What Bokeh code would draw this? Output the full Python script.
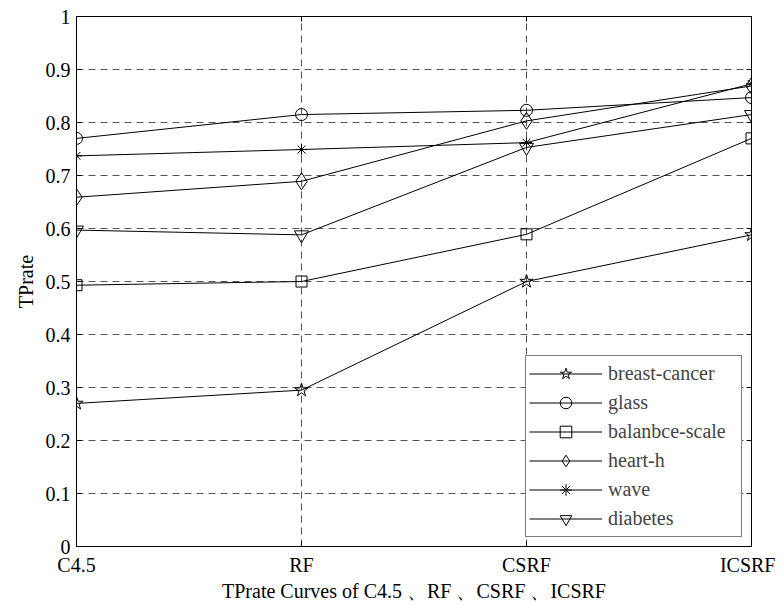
from bokeh.plotting import figure
from bokeh.models import LinearAxis, FixedTicker, NumeralTickFormatter, Legend
from bokeh.embed import file_html
from bokeh.resources import INLINE

categories = ["C4.5", "RF", "CSRF", "ICSRF"]
y_ticks = [0, 0.1, 0.2, 0.3, 0.4, 0.5, 0.6, 0.7, 0.8, 0.9, 1]

series_names = ["breast-cancer", "glass", "balanbce-scale", "heart-h", "wave", "diabetes"]
breast_cancer = [0.27, 0.295, 0.5, 0.588]
glass = [0.77, 0.815, 0.823, 0.847]
balance_scale = [0.493, 0.5, 0.589, 0.77]
heart_h = [0.659, 0.689, 0.803, 0.869]
wave = [0.737, 0.749, 0.762, 0.873]
diabetes = [0.597, 0.588, 0.753, 0.815]

x_title = "TPrate Curves of C4.5 、RF 、CSRF 、ICSRF"
y_title = "TPrate"

FONT = "Liberation Serif"
FS = "20px"

xs = list(range(len(categories)))

p = figure(width=775, height=604, output_backend="svg", toolbar_location=None,
           x_range=(xs[0], xs[-1]), y_range=(0, 1),
           min_border_left=76, min_border_right=24, min_border_top=16, min_border_bottom=57)
p.outline_line_color = "black"
p.outline_line_width = 1
p.background_fill_color = "white"

xt = FixedTicker(ticks=xs)
yt = FixedTicker(ticks=y_ticks)
labels = {i: c for i, c in enumerate(categories)}

def style_axis(ax):
    ax.major_tick_in = 5
    ax.major_tick_out = 0
    ax.minor_tick_in = 5
    ax.minor_tick_out = 0
    ax.axis_line_color = "black"
    ax.axis_line_width = 1
    ax.major_tick_line_color = "black"
    ax.minor_tick_line_color = "black"
    ax.major_label_text_font = FONT
    ax.major_label_text_font_size = FS
    ax.major_label_text_color = "black"
    ax.axis_label_text_font = FONT
    ax.axis_label_text_font_size = FS
    ax.axis_label_text_font_style = "normal"
    ax.axis_label_text_color = "black"

p.xaxis.ticker = xt
p.xaxis.major_label_overrides = labels
p.xaxis.axis_label = x_title
style_axis(p.xaxis[0])
p.xaxis.major_label_standoff = 7
p.xaxis.axis_label_standoff = 1

p.yaxis.ticker = yt
p.yaxis.formatter = NumeralTickFormatter(format="0.[0]")
p.yaxis.axis_label = y_title
style_axis(p.yaxis[0])
p.yaxis.major_label_standoff = 6
p.yaxis.axis_label_standoff = 6

# Box axes: tick marks only (minor ticks carry no labels)
ra = LinearAxis(ticker=FixedTicker(ticks=[], minor_ticks=y_ticks))
style_axis(ra)
p.add_layout(ra, "right")
ta = LinearAxis(ticker=FixedTicker(ticks=[], minor_ticks=xs))
style_axis(ta)
p.add_layout(ta, "above")

for g in (p.xgrid, p.ygrid):
    g.grid_line_color = "#555555"
    g.grid_line_dash = "7 5"
    g.grid_line_width = 1
p.xgrid.ticker = xt
p.ygrid.ticker = yt

series = [breast_cancer, glass, balance_scale, heart_h, wave, diabetes]
markers = ["star", "circle", "square", "diamond", "asterisk", "inverted_triangle"]
sizes = [14, 12, 11, 17, 11, 14]

items = []
for name, ys, m, s in zip(series_names, series, markers, sizes):
    l = p.line(xs, ys, line_color="black", line_width=1)
    sc = p.scatter(xs, ys, marker=m, size=s, fill_color=None,
                   line_color="black", line_width=1)
    items.append((name, [l, sc]))

legend = Legend(items=items, location="bottom_right", margin=9,
                padding=3, spacing=0, glyph_height=29, glyph_width=73,
                label_standoff=6, label_width=130, label_height=29,
                label_text_font=FONT, label_text_font_size=FS,
                border_line_color="black", border_line_width=1,
                background_fill_color="white", background_fill_alpha=1)
p.add_layout(legend)

open("out.html", "w").write(file_html(p, INLINE))
